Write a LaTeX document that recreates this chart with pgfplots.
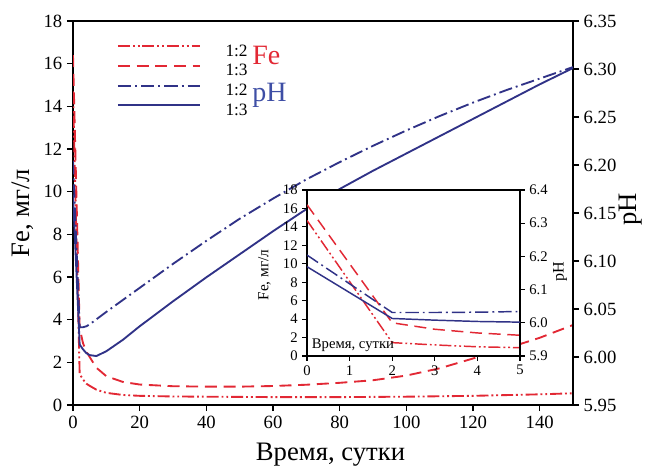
\documentclass[border=0pt]{standalone}
\usepackage{fontspec}
\setmainfont{Liberation Serif}
\usepackage{pgfplots}
\pgfplotsset{compat=1.18}
\usepackage{pgfplotstable}
\definecolor{fered}{RGB}{226,40,52}
\definecolor{phblue}{RGB}{48,50,135}
\definecolor{phtext}{RGB}{62,78,165}

\pgfplotstableread{
x y
0 14.7
2 1.45
3 1.2
4 1.0
5 0.9
7 0.72
10 0.57
15 0.47
20 0.43
30 0.40
40 0.39
60 0.37
80 0.37
100 0.39
120 0.43
140 0.5
150 0.55
}\tfeA
\pgfplotstableread{
x y
0 16.4
2 3.6
3 2.9
4 2.5
5 2.25
7 1.75
10 1.35
15 1.08
20 0.96
30 0.88
40 0.86
50 0.86
60 0.89
70 0.95
80 1.04
90 1.16
100 1.38
110 1.72
120 2.18
130 2.65
140 3.15
150 3.75
}\tfeB
\pgfplotstableread{
x y
0 6.204
2 6.031
3 6.031
4 6.032
5 6.034
10 6.047
20 6.072
30 6.097
40 6.121
50 6.144
60 6.165
70 6.185
80 6.203
90 6.220
100 6.236
110 6.251
120 6.265
130 6.278
140 6.290
150 6.302
}\tphA
\pgfplotstableread{
x y
0 6.169
2 6.013
3 6.008
4 6.004
5 6.002
7 6.001
10 6.006
15 6.018
20 6.032
30 6.058
40 6.083
50 6.107
60 6.131
70 6.154
80 6.175
90 6.194
100 6.212
110 6.230
120 6.248
130 6.266
140 6.284
150 6.301
}\tphB

\tikzset{
  feA/.style={fered, line width=1.4pt, dash pattern=on 9pt off 2.2pt on 1.4pt off 2.2pt on 1.4pt off 2.2pt},
  feB/.style={fered, line width=1.4pt, dash pattern=on 9pt off 5pt},
  phA/.style={phblue, line width=1.4pt, dash pattern=on 10pt off 3pt on 1.4pt off 3pt},
  phB/.style={phblue, line width=1.4pt},
}
\pgfplotsset{
  mybase/.style={scale only axis, /pgf/number format/assume math mode=true,
    tick align=outside, axis line style={line width=0.9pt, black},
    tick style={line width=0.9pt, black}},
}

\begin{document}
\begin{tikzpicture}
\useasboundingbox (-54.75pt,-49.5pt) rectangle (431.25pt,303.75pt);
% main Fe axis
\begin{axis}[mybase, width=375pt, height=288pt,
  xmin=0, xmax=150, ymin=0, ymax=18,
  xtick={0,20,...,140}, ytick={0,2,...,18},
  xtick pos=left, ytick pos=left, major tick length=4.5pt,
  ticklabel style={font=\fontsize{14}{14}\selectfont},
  xlabel={Время, сутки}, ylabel={Fe, мг/л},
  label style={font=\fontsize{20}{20}\selectfont},
  xlabel style={at={(axis description cs:0.515,-0.13)}, anchor=center},
  ylabel style={at={(axis description cs:-0.101,0.5)}, anchor=center}]
\addplot[feA] table[x=x,y=y]{\tfeA};
\addplot[feB] table[x=x,y=y]{\tfeB};
\node[anchor=base west, text=fered, font=\fontsize{21}{21}\selectfont, inner sep=0pt] at (rel axis cs:0.358,0.888) {Fe};
\node[anchor=base west, text=phtext, font=\fontsize{21}{21}\selectfont, inner sep=0pt] at (rel axis cs:0.358,0.790) {pH};
\end{axis}
% main pH axis
\begin{axis}[mybase, width=375pt, height=288pt,
  xmin=0, xmax=150, ymin=5.95, ymax=6.35,
  axis x line=none, axis y line*=right, major tick length=4.5pt,
  ytick={5.95,6,6.05,6.1,6.15,6.2,6.25,6.3,6.35},
  yticklabel style={font=\fontsize{14}{14}\selectfont, /pgf/number format/.cd, fixed, fixed zerofill, precision=2},
  ylabel={pH},
  ylabel style={font=\fontsize{20}{20}\selectfont, at={(axis description cs:1.115,0.51)}, anchor=center},
  legend style={draw=none, fill=none, inner sep=0pt, at={(rel axis cs:0.0874,0.944)}, anchor=north west,
    font=\fontsize{13}{13}\selectfont, row sep=1.8pt,
    nodes={inner sep=0pt, text height=10pt, text depth=3pt}},
  legend cell align=left,
  legend image code/.code={\draw[#1] (0pt,4pt) -- (61.5pt,4pt); \path (80pt,0pt);}]
\addplot[phA, forget plot] table[x=x,y=y]{\tphA};
\addplot[phB, forget plot] table[x=x,y=y]{\tphB};
\addlegendimage{feA}\addlegendentry{1:2}
\addlegendimage{feB}\addlegendentry{1:3}
\addlegendimage{phA}\addlegendentry{1:2}
\addlegendimage{phB}\addlegendentry{1:3}
\end{axis}
% inset Fe axis
\begin{axis}[mybase, at={(175.5pt,36.75pt)}, anchor=south west,
  width=159.75pt, height=124.5pt,
  xmin=0, xmax=5, ymin=0, ymax=18,
  xtick={0,1,...,5}, ytick={0,2,...,18},
  xtick pos=left, ytick pos=left, major tick length=3.5pt,
  axis background/.style={fill=white},
  ticklabel style={font=\fontsize{11}{11}\selectfont},
  ylabel={Fe, мг/л},
  ylabel style={font=\fontsize{11.5}{11.5}\selectfont, at={(axis description cs:-0.2,0.488)}, anchor=center}]
\addplot[feA, line width=1.1pt] table[x=x,y=y]{\tfeA};
\addplot[feB, line width=1.1pt] table[x=x,y=y]{\tfeB};
\node[anchor=base west, font=\fontsize{11}{11}\selectfont, inner sep=0pt] at (rel axis cs:0.022,0.045) {Время, сутки};
\end{axis}
% inset pH axis
\begin{axis}[mybase, at={(175.5pt,36.75pt)}, anchor=south west,
  width=159.75pt, height=124.5pt,
  xmin=0, xmax=5, ymin=5.9, ymax=6.4,
  axis x line=none, axis y line*=right, major tick length=3.5pt,
  ytick={5.9,6,6.1,6.2,6.3,6.4},
  yticklabel style={font=\fontsize{11}{11}\selectfont, /pgf/number format/.cd, fixed, fixed zerofill, precision=1},
  ylabel={pH},
  ylabel style={font=\fontsize{12}{12}\selectfont, at={(axis description cs:1.188,0.506)}, anchor=center}]
\addplot[phA, line width=1.1pt] table[x=x,y=y]{\tphA};
\addplot[phB, line width=1.1pt] table[x=x,y=y]{\tphB};
\end{axis}
\end{tikzpicture}
\end{document}
